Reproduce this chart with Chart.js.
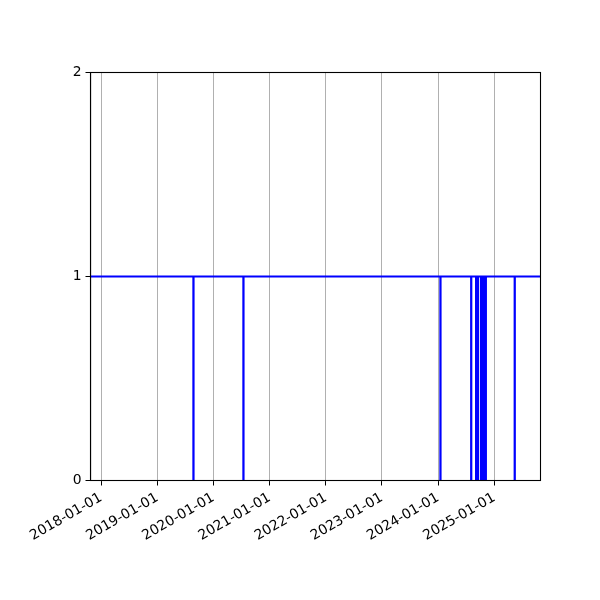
<!DOCTYPE html>
<html>
<head>
<meta charset="utf-8">
<script src="https://cdn.jsdelivr.net/npm/chart.js@4/dist/chart.umd.min.js"></script>
<style>
  html, body { margin: 0; padding: 0; background: #fff; }
  canvas { display: block; }
</style>
</head>
<body>
<canvas id="c" width="600" height="600"></canvas>
<script>
// step series: value changes at these dates
const dates = [
  '2017-10-24',
  '2019-08-24', '2019-08-25',
  '2020-07-14', '2020-07-15',
  '2024-01-16', '2024-01-17',
  '2024-08-03', '2024-08-04',
  '2024-09-04', '2024-09-05',
  '2024-09-08', '2024-09-09',
  '2024-09-12', '2024-09-13',
  '2024-09-16', '2024-09-17',
  '2024-10-06', '2024-10-07',
  '2024-10-10', '2024-10-11',
  '2024-10-14', '2024-10-15',
  '2024-10-18', '2024-10-19',
  '2024-10-22', '2024-10-23',
  '2024-10-26', '2024-10-27',
  '2024-10-30', '2024-10-31',
  '2024-11-03', '2024-11-04',
  '2024-11-06', '2024-11-07',
  '2025-05-13', '2025-05-14',
  '2025-10-28'
];
const values = [
  1,
  0, 1,
  0, 1,
  0, 1,
  0, 1,
  0, 1,
  0, 1,
  0, 1,
  0, 1,
  0, 1,
  0, 1,
  0, 1,
  0, 1,
  0, 1,
  0, 1,
  0, 1,
  0, 1,
  0, 1,
  0, 1,
  1
];
const xTickLabels = ['2018-01-01', '2019-01-01', '2020-01-01', '2021-01-01',
                     '2022-01-01', '2023-01-01', '2024-01-01', '2025-01-01'];
const yTickValues = [0, 1, 2];
const xRange = ['2017-10-24', '2025-10-28'];

const toMs = (s) => { const [y, m, d] = s.split('-').map(Number); return Date.UTC(y, m - 1, d); };
const fmt = (v) => new Date(v).toISOString().slice(0, 10);

const points = dates.map((d, i) => ({ x: toMs(d), y: values[i] }));
const xTicks = xTickLabels.map(toMs);

// box around plot area (top + right sides)
const frame = {
  id: 'frame',
  afterDraw(chart) {
    const a = chart.chartArea, ctx = chart.ctx;
    ctx.save();
    ctx.strokeStyle = '#000';
    ctx.lineWidth = 1.1;
    ctx.strokeRect(a.left, a.top, a.right - a.left, a.bottom - a.top);
    ctx.restore();
  }
};

Chart.defaults.font.family = '"DejaVu Sans", sans-serif';
Chart.defaults.font.size = 13.9;
Chart.defaults.color = '#000';

new Chart(document.getElementById('c'), {
  type: 'line',
  data: {
    datasets: [{
      data: points,
      stepped: 'before',
      borderColor: '#0000ff',
      borderWidth: 2.1,
      pointRadius: 0,
      fill: false
    }]
  },
  options: {
    responsive: false,
    animation: false,
    layout: { padding: { left: 0.5, right: 59.5, top: 72.5, bottom: 0 } },
    plugins: { legend: { display: false }, tooltip: { enabled: false } },
    scales: {
      x: {
        type: 'linear',
        min: toMs(xRange[0]),
        max: toMs(xRange[1]),
        afterBuildTicks: (axis) => { axis.ticks = xTicks.map(v => ({ value: v })); },
        afterFit: (axis) => { axis.height = 119.5; },
        ticks: {
          autoSkip: false,
          minRotation: 30,
          maxRotation: 30,
          padding: 4,
          callback: (v) => fmt(v)
        },
        grid: { color: '#b0b0b0', lineWidth: 1, tickColor: '#000', tickLength: 5 },
        border: { color: '#000', width: 1.1 }
      },
      y: {
        min: 0,
        max: 2,
        afterBuildTicks: (axis) => { axis.ticks = yTickValues.map(v => ({ value: v })); },
        afterFit: (axis) => { axis.width = 90; },
        ticks: { padding: 4 },
        grid: { drawOnChartArea: false, tickColor: '#000', tickLength: 5 },
        border: { color: '#000', width: 1.1 }
      }
    }
  },
  plugins: [frame]
});
</script>
</body>
</html>
